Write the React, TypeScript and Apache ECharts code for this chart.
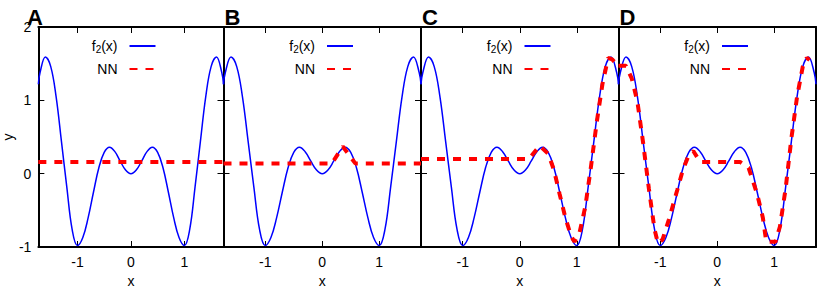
import React, { useEffect, useRef } from "react";
import * as echarts from "echarts";

// Shared x range of every panel and the labelled ticks
const X_MIN = -1.732;
const X_MAX = 1.732;
const X_TICKS = [-1, 0, 1];
const Y_MIN = -1;
const Y_MAX = 2;

const PANEL_LABELS = ["A", "B", "C", "D"];

// Target function f2(x), sampled
const F2_X = [-1.732, -1.7, -1.6, -1.5, -1.4, -1.3, -1.2, -1.1, -1.0, -0.9, -0.8, -0.7, -0.6, -0.5, -0.4, -0.3, -0.2, -0.1, 0, 0.1, 0.2, 0.3, 0.4, 0.5, 0.6, 0.7, 0.8, 0.9, 1.0, 1.1, 1.2, 1.3, 1.4, 1.5, 1.6, 1.7, 1.732];
const F2_Y = [1.22, 1.38, 1.59, 1.46, 1.05, 0.44, -0.18, -0.76, -0.98, -0.87, -0.6, -0.25, 0.08, 0.29, 0.36, 0.3, 0.17, 0.05, 0, 0.05, 0.17, 0.3, 0.36, 0.29, 0.08, -0.25, -0.6, -0.87, -0.98, -0.76, -0.18, 0.44, 1.05, 1.46, 1.59, 1.38, 1.22];

// Network output, one curve per training stage
const NN_A_X = [-1.732, 1.732];
const NN_A_Y = [0.16, 0.16];

const NN_B_X = [-1.732, 0.17, 0.36, 0.58, 1.732];
const NN_B_Y = [0.14, 0.14, 0.37, 0.14, 0.14];

const NN_C_X = [-1.732, 0.16, 0.35, 0.5, 0.6, 0.7, 0.8, 0.9, 0.96, 1.05, 1.15, 1.25, 1.35, 1.45, 1.55, 1.62, 1.732];
const NN_C_Y = [0.2, 0.2, 0.38, 0.27, 0.05, -0.28, -0.6, -0.85, -0.93, -0.8, -0.45, 0.1, 0.7, 1.22, 1.58, 1.56, 1.46];

const NN_D_X = [-1.732, -1.6, -1.5, -1.4, -1.3, -1.2, -1.1, -1.04, -0.96, -0.85, -0.7, -0.6, -0.5, -0.42, -0.3, 0.4, 0.55, 0.7, 0.8, 0.86, 1.02, 1.1, 1.2, 1.3, 1.4, 1.5, 1.57, 1.62];
const NN_D_Y = [1.47, 1.47, 1.3, 0.98, 0.42, -0.2, -0.76, -0.95, -0.9, -0.63, -0.22, 0.06, 0.25, 0.31, 0.16, 0.16, 0.08, -0.28, -0.6, -0.93, -0.93, -0.72, -0.2, 0.48, 1.05, 1.46, 1.58, 1.55];

const NN_X = [NN_A_X, NN_B_X, NN_C_X, NN_D_X];
const NN_Y = [NN_A_Y, NN_B_Y, NN_C_Y, NN_D_Y];

const FONT = "'Liberation Sans', Arial, Helvetica, sans-serif";
const W = 825;
const H = 294;
const GRID_LEFTS = [26, 223.5, 421, 618.5];
const GRID_W = 197.5;
const GRID_TOP = 27;
const GRID_H = 220;

const zip = (xs: number[], ys: number[]) => xs.map((x, i) => [x, ys[i]]);

export default function App() {
  const ref = useRef<HTMLDivElement>(null);

  useEffect(() => {
    if (!ref.current) return;
    const chart = echarts.init(ref.current, undefined, { renderer: "svg" });

    const frameLine = { show: true, onZero: false, lineStyle: { color: "#000", width: 2 } };
    const tick = { inside: true, length: 6, lineStyle: { color: "#000", width: 1 } };
    const labelText = { color: "#000", fontSize: 14, fontFamily: FONT };

    const xAxis: any[] = [];
    const yAxis: any[] = [];
    const series: any[] = [];
    const legend: any[] = [];
    const graphic: any[] = [];

    GRID_LEFTS.forEach((left, i) => {
      xAxis.push({
        type: "value", gridIndex: i, position: "bottom", min: X_MIN, max: X_MAX,
        axisLine: frameLine,
        axisTick: { ...tick, customValues: X_TICKS },
        axisLabel: { ...labelText, margin: 8, customValues: X_TICKS },
        splitLine: { show: false },
        name: "x", nameLocation: "middle", nameGap: 24, nameTextStyle: labelText,
      });
      xAxis.push({
        type: "value", gridIndex: i, position: "top", min: X_MIN, max: X_MAX,
        axisLine: frameLine,
        axisTick: { ...tick, customValues: X_TICKS },
        axisLabel: { show: false },
        splitLine: { show: false },
      });
      yAxis.push({
        type: "value", gridIndex: i, position: "left", min: Y_MIN, max: Y_MAX, interval: 1,
        axisLine: frameLine,
        axisTick: tick,
        axisLabel: { ...labelText, show: i === 0, margin: 7 },
        splitLine: { show: false },
        name: i === 0 ? "y" : "", nameLocation: "middle", nameGap: 14, nameTextStyle: labelText,
      });
      yAxis.push({
        type: "value", gridIndex: i, position: "right", min: Y_MIN, max: Y_MAX, interval: 1,
        axisLine: frameLine,
        axisTick: tick,
        axisLabel: { show: false },
        splitLine: { show: false },
      });

      series.push({
        type: "line", name: "f2", xAxisIndex: 2 * i, yAxisIndex: 2 * i,
        data: zip(F2_X, F2_Y), smooth: 0.4, symbol: "none",
        lineStyle: { color: "#0000ff", width: 1.5 }, itemStyle: { color: "#0000ff" }, z: 2,
      });
      series.push({
        type: "line", name: "NN", xAxisIndex: 2 * i, yAxisIndex: 2 * i,
        data: zip(NN_X[i], NN_Y[i]), symbol: "none",
        lineStyle: { color: "#ff0000", width: 4, type: [8, 8] }, itemStyle: { color: "#ff0000" }, z: 3,
      });

      legend.push({
        orient: "vertical", align: "right", padding: 0,
        right: W - (left + 130.5), top: 39,
        itemWidth: 26, itemHeight: 14, itemGap: 8,
        selectedMode: false,
        itemStyle: { opacity: 0, borderWidth: 0 },
        data: ["f2", "NN"],
        formatter: (name: string) => (name === "f2" ? "{n|f}{s|2}{n|(x)}" : "{n|NN}"),
        textStyle: {
          ...labelText,
          padding: [0, 7, 0, 0],
          rich: {
            n: { fontSize: 14, fontFamily: FONT, color: "#000", lineHeight: 16 },
            s: { fontSize: 10, fontFamily: FONT, color: "#000", verticalAlign: "bottom", lineHeight: 10 },
          },
        },
      });

      graphic.push({
        type: "text", left: left + 1, top: 6,
        style: { text: PANEL_LABELS[i], font: `bold 22px ${FONT}`, fill: "#000", lineHeight: 16 },
      });
    });

    chart.setOption({
      animation: false,
      backgroundColor: "#fff",
      grid: GRID_LEFTS.map((left) => ({ left, top: GRID_TOP, width: GRID_W, height: GRID_H, show: false })),
      xAxis,
      yAxis,
      series,
      legend,
      graphic,
    });

    return () => chart.dispose();
  }, []);

  return <div ref={ref} style={{ position: "fixed", left: 0, top: 0, width: W, height: H }} />;
}
